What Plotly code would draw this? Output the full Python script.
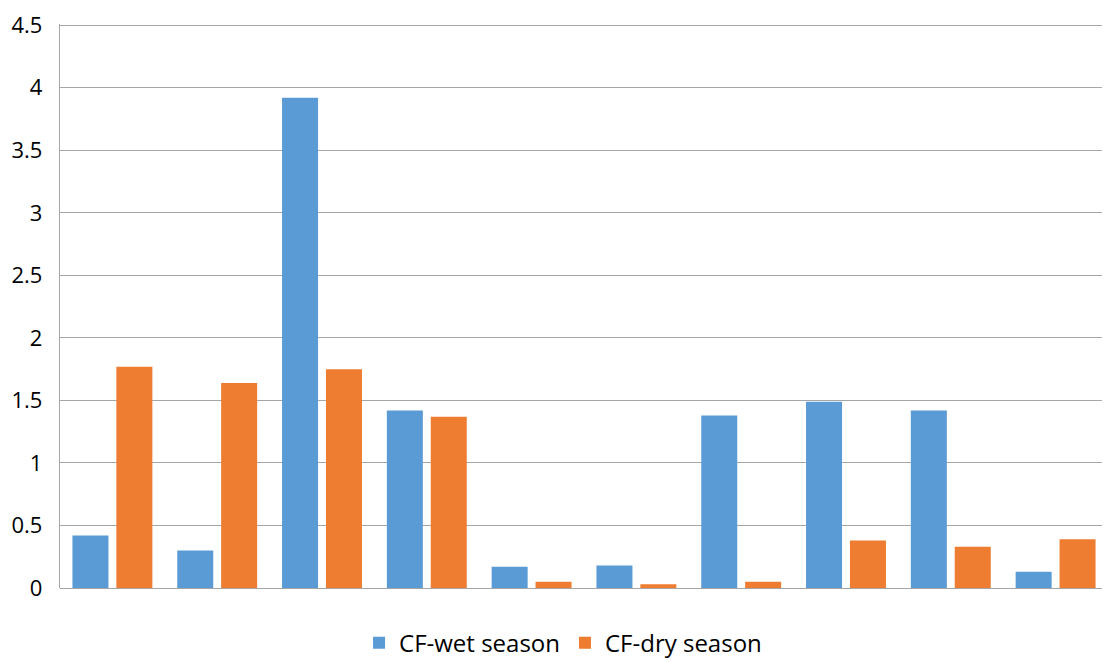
import plotly.graph_objects as go

groups = [f"G{i}" for i in range(1, 11)]
cf_wet = [0.42, 0.30, 3.92, 1.42, 0.17, 0.18, 1.38, 1.49, 1.42, 0.13]
cf_dry = [1.77, 1.64, 1.75, 1.37, 0.05, 0.03, 0.05, 0.38, 0.33, 0.39]
y_ticks = [0, 0.5, 1, 1.5, 2, 2.5, 3, 3.5, 4, 4.5]

fig = go.Figure()
fig.add_trace(go.Bar(x=groups, y=cf_wet, name="CF-wet season",
                     marker=dict(color="#5B9BD5", line=dict(width=0))))
fig.add_trace(go.Bar(x=groups, y=cf_dry, name="CF-dry season",
                     marker=dict(color="#EE7D31", line=dict(width=0))))

# page body has an 8px margin, so the figure is sized to fit inside the window
fig.update_layout(
    width=1102, height=654,
    template="plotly_white",
    plot_bgcolor="white", paper_bgcolor="white",
    font=dict(family="Open Sans, Noto Sans, sans-serif", size=22, color="#000000"),
    barmode="group",
    bargap=0.162,
    bargroupgap=0.18,
    margin=dict(l=52, r=2, t=16, b=74, autoexpand=False),
    showlegend=True,
    legend=dict(orientation="h", x=0.48, xanchor="center", y=-0.098, yanchor="middle",
                font=dict(size=24), traceorder="normal"),
    xaxis=dict(showticklabels=False, showgrid=False, zeroline=False,
               showline=False, ticks="", automargin=False),
    yaxis=dict(range=[0, 4.51], tickvals=y_ticks,
               ticktext=[f"{v:g}" for v in y_ticks],
               showgrid=True, gridcolor="#A6A6A6", gridwidth=1.3,
               zeroline=True, zerolinecolor="#A6A6A6", zerolinewidth=1.3,
               showline=True, linecolor="#A6A6A6", linewidth=1.3,
               ticks="", ticklabelstandoff=12, automargin=False,
               ticklabeloverflow="allow",
               tickfont=dict(size=22)),
)

fig.write_html("out.html")
